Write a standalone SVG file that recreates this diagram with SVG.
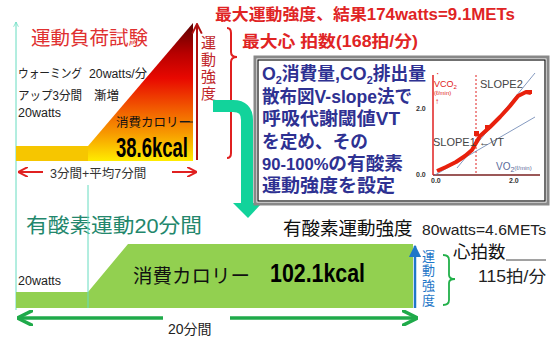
<svg xmlns="http://www.w3.org/2000/svg" width="551" height="339" viewBox="0 0 551 339">
<style>
text{font-family:"Liberation Sans","Noto Sans CJK JP",sans-serif}
.blk{fill:#222}
.red{fill:#e02424;font-weight:bold}
.blue{fill:#2e3192;font-weight:bold;font-size:18px}
.sm{fill:#444;font-size:11px}
.tick{fill:#333;font-size:7px;font-weight:bold}
.vred{fill:#c0262a;font-size:15px}
.vblue{fill:#1f77c8;font-size:13px}
</style>
<defs>
<linearGradient id="heat" x1="0" y1="23" x2="0" y2="161" gradientUnits="userSpaceOnUse">
<stop offset="0" stop-color="#5a0000"/>
<stop offset="0.22" stop-color="#b80000"/>
<stop offset="0.4" stop-color="#e80800"/>
<stop offset="0.62" stop-color="#f25a00"/>
<stop offset="0.8" stop-color="#f79a00"/>
<stop offset="1" stop-color="#ffec00"/>
</linearGradient>
<marker id="arrRed" viewBox="0 0 10 10" refX="9" refY="5" markerWidth="5" markerHeight="5" orient="auto-start-reverse"><path d="M0,0 L10,5 L0,10" fill="none" stroke="#e02020" stroke-width="2"/></marker>
<marker id="arrGreen" viewBox="0 0 10 10" refX="9" refY="5" markerWidth="4.5" markerHeight="4.5" orient="auto-start-reverse"><path d="M0,0 L10,5 L0,10" fill="none" stroke="#1faa4a" stroke-width="2.2"/></marker>
<marker id="arrDark" viewBox="0 0 10 10" refX="9" refY="5" markerWidth="6" markerHeight="6" orient="auto"><path d="M1,1 L9,5 L1,9" fill="none" stroke="#b01010" stroke-width="1.6"/></marker>
<marker id="arrBlue" viewBox="0 0 10 10" refX="9" refY="5" markerWidth="5" markerHeight="5" orient="auto"><path d="M0,0 L10,5 L0,10 z" fill="#1f77c8"/></marker>
<marker id="arrAqua" viewBox="0 0 10 10" refX="9" refY="5" markerWidth="6" markerHeight="6" orient="auto"><path d="M1,1 L9,5 L1,9" fill="none" stroke="#66dcc0" stroke-width="1.2"/></marker>
</defs>

<!-- guide line -->
<g id="guides">
<line x1="16" y1="310" x2="16" y2="22" stroke="#66dcc0" stroke-width="1" marker-end="url(#arrAqua)"/>
</g>

<!-- stress test block -->
<g id="stress-test">
<rect x="16" y="146" width="74" height="15" fill="#f6c600"/>
<polygon points="88,146 193,23 193,161 88,161" fill="url(#heat)"/>
<text x="31" y="45" style="fill:#e03030;font-size:19.5px">運動負荷試験</text>
<text x="18" y="78" class="blk" style="font-size:12.5px" textLength="64" lengthAdjust="spacingAndGlyphs">ウォーミング</text>
<text x="89" y="78" class="blk" style="font-size:12.5px" textLength="58" lengthAdjust="spacingAndGlyphs">20watts/分</text>
<text x="18" y="100" class="blk" style="font-size:12.5px" textLength="64" lengthAdjust="spacingAndGlyphs">アップ3分間</text>
<text x="94" y="100" class="blk" style="font-size:12.5px">漸増</text>
<text x="18" y="117" class="blk" style="font-size:12.5px">20watts</text>
<text x="116" y="127" style="fill:#111;font-size:12.5px">消費カロリー</text>
<line x1="180" y1="122" x2="193" y2="122" stroke="#222" stroke-width="1"/>
<text x="116" y="157" style="fill:#000;font-size:27px;font-weight:bold" textLength="72" lengthAdjust="spacingAndGlyphs">38.6kcal</text>
</g>

<!-- intensity arrow red -->
<g id="intensity-red">
<line x1="197" y1="160" x2="197" y2="24" stroke="#b01010" stroke-width="2" marker-end="url(#arrDark)"/>
<text x="201" y="48" class="vred">運</text>
<text x="201" y="65" class="vred">動</text>
<text x="201" y="82" class="vred">強</text>
<text x="201" y="99" class="vred">度</text>
<path d="M227,28 Q231,28 231,33 V52 Q231,57 237,57 Q231,57 231,62 V153 Q231,158 227,158" fill="none" stroke="#e02020" stroke-width="2"/>
</g>

<!-- duration red -->
<g id="duration-red">
<line x1="19" y1="172" x2="43" y2="172" stroke="#e02020" stroke-width="2" marker-start="url(#arrRed)"/>
<line x1="172" y1="172" x2="196" y2="172" stroke="#e02020" stroke-width="2" marker-end="url(#arrRed)"/>
<text x="50" y="178" style="fill:#333;font-size:12.5px">3分間+平均7分間</text>
</g>

<!-- max results -->
<g id="max-results">
<text x="215" y="20" class="red" style="font-size:16px" textLength="300" lengthAdjust="spacingAndGlyphs">最大運動強度、結果174watts=9.1METs</text>
<text x="242" y="47" class="red" style="font-size:16px" textLength="176" lengthAdjust="spacingAndGlyphs">最大心 拍数(168拍/分)</text>
</g>

<!-- connector -->
<g id="connectors">
<path d="M213,106 H233 Q247,106 247,120 V205" fill="none" stroke="#12d39b" stroke-width="12"/>
<polygon points="233,203 262,203 248,218" fill="#12d39b"/>
</g>

<!-- VT box -->
<g id="vt-box">
<rect x="255" y="57" width="293" height="147" fill="#fff" stroke="#888" stroke-width="3"/>
<rect x="258" y="60" width="287" height="141" fill="#fff" stroke="#111" stroke-width="1.2"/>
<text x="262" y="80" class="blue" textLength="164" lengthAdjust="spacingAndGlyphs">O<tspan font-size="11" dy="4">2</tspan><tspan dy="-4">消費量,CO</tspan><tspan font-size="11" dy="4">2</tspan><tspan dy="-4">排出量</tspan></text>
<text x="262" y="103" class="blue" textLength="150" lengthAdjust="spacingAndGlyphs">散布図V-slope法で</text>
<text x="262" y="125" class="blue" textLength="138" lengthAdjust="spacingAndGlyphs">呼吸代謝閾値VT</text>
<text x="262" y="148" class="blue" textLength="106" lengthAdjust="spacingAndGlyphs">を定め、その</text>
<text x="262" y="170" class="blue" textLength="141" lengthAdjust="spacingAndGlyphs"><tspan font-size="16">90-100%</tspan>の有酸素</text>
<text x="262" y="192" class="blue" textLength="133" lengthAdjust="spacingAndGlyphs">運動強度を設定</text>
</g>

<!-- V-slope chart -->
<g id="vslope-chart">
<line x1="433" y1="175" x2="540" y2="175" stroke="#7a2020" stroke-width="1.5"/>
<line x1="433" y1="75" x2="433" y2="175" stroke="#e02020" stroke-width="1.5"/>
<line x1="476" y1="75" x2="476" y2="175" stroke="#e02020" stroke-width="1" stroke-dasharray="2,2"/>
<line x1="457" y1="168" x2="535" y2="73" stroke="#6680b0" stroke-width="0.8"/>
<line x1="435" y1="175" x2="535" y2="117" stroke="#6680b0" stroke-width="0.8"/>
<polyline points="437,171 446,167 456,162 465,156 472,150 476,143 480,136 490,127 500,117 510,106 518,96 526,92 531,93" fill="none" stroke="#e8200c" stroke-width="4" stroke-linejoin="round"/>
<rect x="474" y="131" width="5" height="5" fill="#e8200c"/>
<rect x="485" y="125" width="5" height="5" fill="#e8200c"/>
<rect x="527" y="90" width="5" height="4" fill="#e8200c"/>
<text x="436" y="77" style="fill:#e02020;font-size:10px">·</text>
<text x="434" y="87" style="fill:#e02020;font-size:9px">VCO<tspan font-size="6" dy="2">2</tspan></text>
<text x="434" y="95" style="fill:#e02020;font-size:6px">(ℓ/min)</text>
<text x="435" y="104" style="fill:#e02020;font-size:8px">↑</text>
<text x="416" y="111" class="tick">2.0</text>
<text x="416" y="177" class="tick">0.0</text>
<text x="431" y="183" class="tick">0.0</text>
<text x="509" y="183" class="tick">2.0</text>
<text x="480" y="88" class="sm">SLOPE2</text>
<text x="433" y="146" class="sm">SLOPE1</text>
<text x="479" y="146" class="sm">←VT</text>
<text x="496" y="170" style="fill:#5a6a9a;font-size:10px">VO<tspan font-size="7" dy="2">2</tspan><tspan font-size="6" dy="-2">(ℓ/min)</tspan></text>
</g>

<!-- aerobic block -->
<g id="aerobic">
<text x="26" y="233" style="fill:#23876c;font-size:20px" textLength="176" lengthAdjust="spacingAndGlyphs">有酸素運動20分間</text>
<polygon points="16,292 88,292 128,244 413,244 413,308 16,308" fill="#92d050"/>
<line x1="88" y1="185" x2="88" y2="308" stroke="#66dcc0" stroke-width="1"/>
<text x="18" y="285" class="blk" style="font-size:12.5px">20watts</text>
<text x="133" y="283" style="fill:#111;font-size:19.5px">消費カロリー</text>
<text x="270" y="282" style="fill:#000;font-size:26px;font-weight:bold" textLength="95" lengthAdjust="spacingAndGlyphs">102.1kcal</text>
</g>

<!-- intensity blue -->
<g id="intensity-blue">
<line x1="415" y1="308" x2="415" y2="246" stroke="#1f77c8" stroke-width="2.5" marker-end="url(#arrBlue)"/>
<text x="422" y="261" class="vblue">運</text>
<text x="422" y="275" class="vblue">動</text>
<text x="422" y="290" class="vblue">強</text>
<text x="422" y="305" class="vblue">度</text>
<path d="M443,255 Q449,255 449,260 V275 Q449,279 455,279 Q449,279 449,283 V300 Q449,305 443,305" fill="none" stroke="#22b04a" stroke-width="1.8"/>
</g>

<!-- aerobic stats -->
<g id="aerobic-stats">
<text x="283" y="235" style="fill:#111;font-size:18.5px">有酸素運動強度</text>
<text x="422" y="235" style="fill:#222;font-size:15px" textLength="124" lengthAdjust="spacingAndGlyphs">80watts=4.6METs</text>
<text x="453" y="258" style="fill:#111;font-size:17.5px">心拍数</text>
<line x1="506" y1="260" x2="546" y2="260" stroke="#444" stroke-width="1"/>
<text x="478" y="282" style="fill:#222;font-size:16px" textLength="68" lengthAdjust="spacingAndGlyphs">115拍/分</text>
</g>

<!-- duration green -->
<g id="duration-green">
<line x1="19" y1="318" x2="163" y2="318" stroke="#1faa4a" stroke-width="3.5" marker-start="url(#arrGreen)"/>
<line x1="230" y1="318" x2="416" y2="318" stroke="#1faa4a" stroke-width="3.5" marker-end="url(#arrGreen)"/>
<text x="168" y="334" style="fill:#222;font-size:14px">20分間</text>
</g>
</svg>
